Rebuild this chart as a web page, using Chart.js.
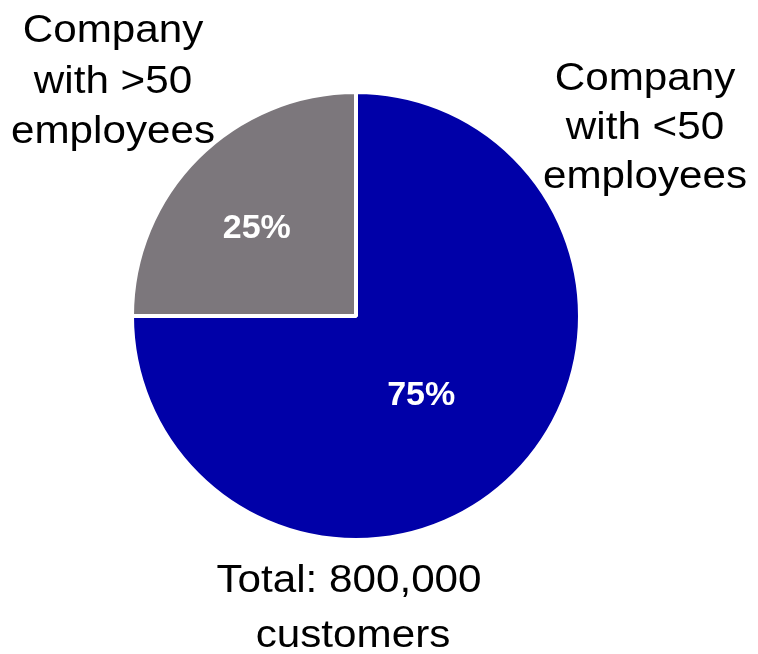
<!DOCTYPE html>
<html lang="en">
<head>
  <meta charset="UTF-8">
  <title>Customers by company size</title>
  <script src="https://cdn.jsdelivr.net/npm/chart.js"></script>
  <style>
    body {
      margin: 0;
      padding: 0;
      background-color: #fff;
    }

    #chart-container {
      width: 758px;
      height: 654px;
    }
  </style>
</head>
<body>
  <div id="chart-container">
    <canvas id="sizeChart" width="758" height="654"></canvas>
  </div>

  <script>
    // Customer split by company size
    const categories = ['Company with <50 employees', 'Company with >50 employees'];
    const shares = [75, 25];
    const sliceColors = ['#0000a8', '#7c777c'];
    const categoryLines = [
      ['Company', 'with <50', 'employees'],
      ['Company', 'with >50', 'employees']
    ];
    const totalLines = ['Total: 800,000', 'customers'];

    const textFont = "38px 'Liberation Sans', Arial, sans-serif";
    const percentFont = "bold 34px 'Liberation Sans', Arial, sans-serif";

    // draws a line of text a little wider than the font, centred on x
    const wideText = (ctx, text, x, y) => {
      ctx.save();
      ctx.translate(x, y);
      ctx.scale(1.11, 1);
      ctx.fillText(text, 0, 0);
      ctx.restore();
    };

    const pieLabels = {
      id: 'pieLabels',
      afterDatasetsDraw(chart) {
        const ctx = chart.ctx;
        const arcs = chart.getDatasetMeta(0).data;
        // nudges from each slice's centre point
        const nudges = [[-14, -1], [-20, -9]];

        // percentages inside the slices
        ctx.save();
        ctx.fillStyle = '#fff';
        ctx.font = percentFont;
        ctx.textAlign = 'center';
        ctx.textBaseline = 'middle';
        arcs.forEach((arc, i) => {
          const p = arc.getCenterPoint();
          ctx.fillText(shares[i] + '%', p.x + nudges[i][0], p.y + nudges[i][1] + 1);
        });

        // category names and total
        ctx.fillStyle = '#000';
        ctx.font = textFont;
        ctx.textBaseline = 'alphabetic';
        const cx = arcs[0].x;
        const cy = arcs[0].y;
        categoryLines[0].forEach((line, i) => wideText(ctx, line, cx + 289, cy - 226 + i * 49));
        categoryLines[1].forEach((line, i) => wideText(ctx, line, cx - 243, cy - 274 + i * 50.5));
        wideText(ctx, totalLines[0], cx - 7, cy + 276);
        wideText(ctx, totalLines[1], cx - 3, cy + 331);
        ctx.restore();
      }
    };

    const ctx = document.getElementById('sizeChart').getContext('2d');
    const sizeChart = new Chart(ctx, {
      type: 'pie',
      data: {
        labels: categories,
        datasets: [{
          data: shares,
          backgroundColor: sliceColors,
          borderColor: '#fff',
          borderWidth: 4,
          radius: 224
        }]
      },
      options: {
        responsive: false,
        animation: false,
        layout: { padding: { left: 0, right: 46, top: 0, bottom: 22 } },
        plugins: {
          legend: { display: false },
          tooltip: { enabled: false }
        }
      },
      plugins: [pieLabels]
    });
  </script>
</body>
</html>
